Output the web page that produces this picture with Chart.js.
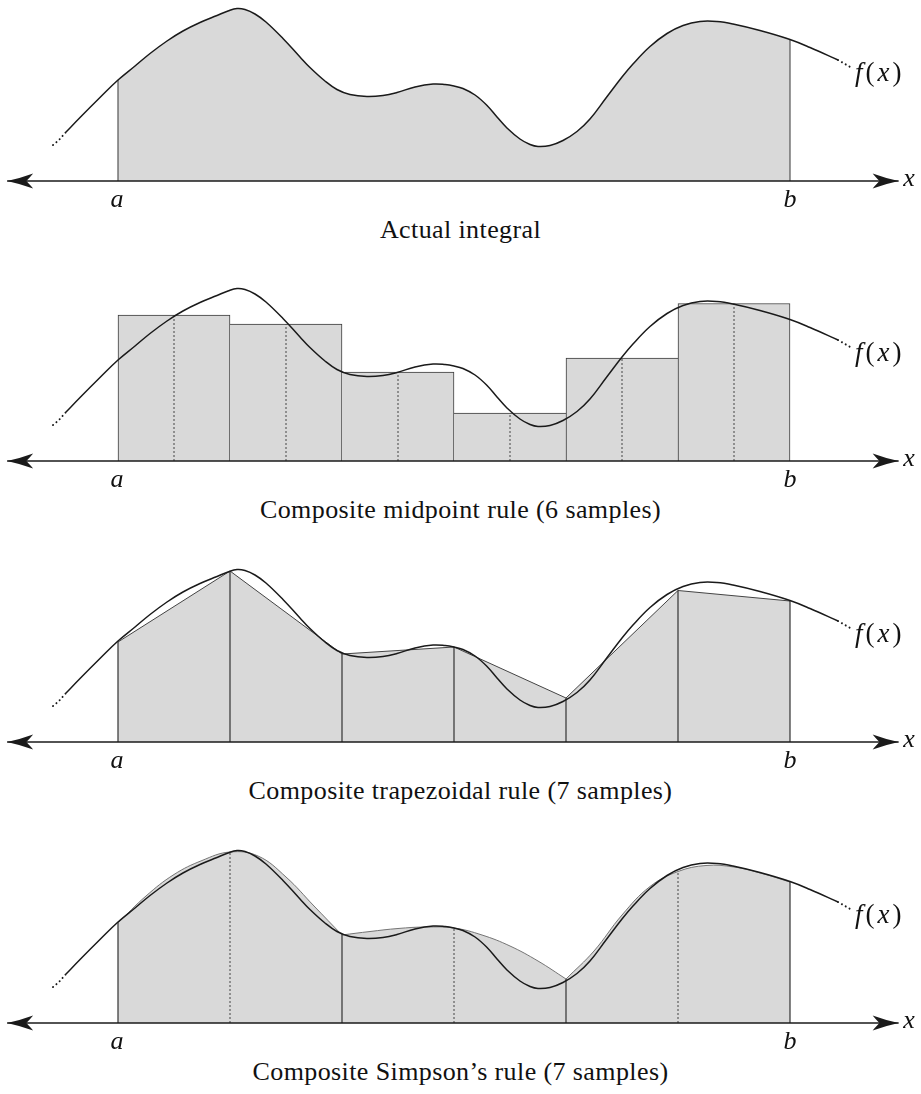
<!DOCTYPE html>
<html><head><meta charset="utf-8">
<script src="https://cdn.jsdelivr.net/npm/chart.js@4.4.1/dist/chart.umd.min.js"></script>
<style>
html,body{margin:0;padding:0;background:#fff;overflow:hidden;}
#wrap{position:relative;width:921px;height:1094px;overflow:hidden;}
#wrap canvas{position:absolute;left:0;}
.lbl{position:absolute;font-family:"Liberation Serif","Times New Roman",serif;color:#111;line-height:1;white-space:nowrap;}
.cap{letter-spacing:0.4px;}
.fx{letter-spacing:3px;}
</style></head><body><div id="wrap"></div>
<script>
// ---------------- data (x in units of the sample spacing, a = 0, b = 6) ----------------
const CURVE_X = [-0.464,-0.339,-0.161,0,0.152,0.286,0.4375,0.58,0.732,0.884,0.982,1.063,1.134,1.223,1.321,1.473,1.625,1.714,1.848,1.955,2.071,2.223,2.366,2.491,2.652,2.813,2.92,3,3.08,3.188,3.295,3.384,3.473,3.589,3.679,3.75,3.857,3.973,4.098,4.214,4.357,4.5,4.598,4.75,4.902,5.045,5.196,5.348,5.491,5.732,6,6.179,6.429];
const CURVE_Y = [49,63.5,83.5,101,115,127.5,140,150,158.5,165.5,170,172.5,171.5,167,159,142.5,124,113.5,100,91.5,86.5,84.5,85.5,88.5,94,97,96.5,95,92.5,86,75.5,64,53,42,36.5,34.5,35.5,40.5,49.5,62,83,104,117,134.5,147.5,155.5,159.5,159.5,157,150.5,141.5,133.5,121];
const DOT_LEFT_X = [-0.58,-0.527,-0.464];
const DOT_LEFT_Y = [36,41,49];
const DOT_RIGHT_X = [6.429,6.491,6.554];
const DOT_RIGHT_Y = [121,117,113];
const NODE_X = [0,1,2,3,4,5,6];
const NODE_F = [100,171,88,95,44,151.5,141];
const MID_X = [0.5,1.5,2.5,3.5,4.5,5.5];
const MID_F = [146,137,89,48,103,157.5];
const SIMPSON_X = [0,0.25,0.5,0.75,1,1.25,1.5,1.75,2,2.25,2.5,2.75,3,3.25,3.5,3.75,4,4.25,4.5,4.75,5,5.25,5.5,5.75,6];
const SIMPSON_Y = [100,127,148.5,162.5,171,167,146,117,88,91.5,94.5,96,95,88,77,62,44,72,108,136.5,151.5,157.5,156,149.5,141];
const SIMPSON_SOLID_X = [0,2,4,6];
const SIMPSON_DOTTED_X = [1,3,5];
const AXIS_X = [-0.99,6.97];
const A_VAL = 0, B_VAL = 6;
const TICK_LABELS = ['a','b'];
const AXIS_LABEL = 'x';
const CAPTIONS = ['Actual integral','Composite midpoint rule (6 samples)','Composite trapezoidal rule (7 samples)','Composite Simpson\u2019s rule (7 samples)'];

// ---------------- layout constants ----------------
const W = 921, CH = 200, AXIS_IN_CANVAS = 181;
const AXIS_PX = [181,461,742,1023];
const PX_A = 118, PX_UNIT = 112;
const XMIN = -PX_A/PX_UNIT, XMAX = (W-PX_A)/PX_UNIT;
const INK = '#1a1a1a', FILL = '#d9d9d9';

const pts = (xs,ys) => xs.map((x,i)=>({x, y:ys[i]}));
function vlines(xs, tops){ const d=[]; xs.forEach((x,i)=>{ d.push({x,y:0},{x,y:tops[i]},{x,y:null}); }); return d; }
const curveAt = x => CURVE_Y[CURVE_X.indexOf(x)];
const nodeAt = x => NODE_F[NODE_X.indexOf(x)];

function drawArrow(ctx,tx,ty,d){
  const L=26, Wd=7.5, N=19;
  ctx.save(); ctx.fillStyle=INK; ctx.beginPath();
  ctx.moveTo(tx,ty);
  ctx.quadraticCurveTo(tx-d*L*0.55, ty-Wd*0.42, tx-d*L, ty-Wd);
  ctx.quadraticCurveTo(tx-d*(N+2), ty-Wd*0.2, tx-d*N, ty);
  ctx.quadraticCurveTo(tx-d*(N+2), ty+Wd*0.2, tx-d*L, ty+Wd);
  ctx.quadraticCurveTo(tx-d*L*0.55, ty+Wd*0.42, tx, ty);
  ctx.closePath(); ctx.fill(); ctx.restore();
}
const arrowPlugin = { id:'arrows', afterDatasetsDraw(chart){
  const xs=chart.scales.x, ys=chart.scales.y, y=ys.getPixelForValue(0);
  drawArrow(chart.ctx, xs.getPixelForValue(AXIS_X[0]), y, -1);
  drawArrow(chart.ctx, xs.getPixelForValue(AXIS_X[1]), y, 1);
}};

function line(data, o){ return Object.assign({type:'line', data, pointRadius:0, pointHoverRadius:0, borderColor:INK, borderWidth:1.5, fill:false, tension:0, spanGaps:false}, o||{}); }
const SMOOTH = {cubicInterpolationMode:'default', tension:0.4};
function commonSets(){
  return [
    line(pts(CURVE_X,CURVE_Y), Object.assign({order:0}, SMOOTH)),
    line(pts(DOT_LEFT_X,DOT_LEFT_Y), {borderDash:[0.01,4.4], borderCapStyle:'round', borderWidth:2, order:0}),
    line(pts(DOT_RIGHT_X,DOT_RIGHT_Y), {borderDash:[0.01,4.4], borderCapStyle:'round', borderWidth:2, order:0}),
    line([{x:AXIS_X[0],y:0},{x:AXIS_X[1],y:0}], {borderWidth:1.5, order:1})
  ];
}

const panels = [];
// 1: actual integral
panels.push([
  ...commonSets(),
  line(vlines([A_VAL,B_VAL],[curveAt(A_VAL),curveAt(B_VAL)]), {borderColor:'#555', borderWidth:1.2, order:5}),
  line(pts(CURVE_X,CURVE_Y).filter(p=>p.x>=A_VAL&&p.x<=B_VAL), Object.assign({borderWidth:0, backgroundColor:FILL, fill:'origin', order:10}, SMOOTH))
]);
// 2: midpoint
panels.push([
  ...commonSets(),
  line(vlines(MID_X,MID_F), {borderColor:'#444', borderWidth:1, borderDash:[2,2], order:5}),
  {type:'bar', data:pts(MID_X,MID_F), backgroundColor:FILL, borderColor:'#3a3a3a', borderSkipped:false,
   categoryPercentage:1, barPercentage:1, order:10,
   borderWidth: c => { const i=c.dataIndex, h=MID_F, n=h.length; if(i===undefined) return 1;
     return {top:1, bottom:0, left:(i===0||h[i]>=h[i-1])?1:0, right:(i===n-1||h[i]>h[i+1])?1:0}; }}
]);
// 3: trapezoid
panels.push([
  ...commonSets(),
  line(vlines(NODE_X,NODE_F), {borderColor:'#333', borderWidth:1.2, order:5}),
  line(pts(NODE_X,NODE_F), {borderColor:'#444', borderWidth:1, backgroundColor:FILL, fill:'origin', order:10})
]);
// 4: simpson
const simpSeg = k => pts(SIMPSON_X.slice(8*k,8*k+9), SIMPSON_Y.slice(8*k,8*k+9));
panels.push([
  ...commonSets(),
  line(vlines(SIMPSON_SOLID_X, SIMPSON_SOLID_X.map(nodeAt)), {borderColor:'#333', borderWidth:1.2, order:5}),
  line(vlines(SIMPSON_DOTTED_X, SIMPSON_DOTTED_X.map(nodeAt)), {borderColor:'#444', borderWidth:1, borderDash:[2,2], order:5}),
  ...[0,1,2].map(k => line(simpSeg(k), Object.assign({borderColor:'#666', borderWidth:0.9, backgroundColor:FILL, fill:'origin', order:10}, SMOOTH)))
]);

const wrap = document.getElementById('wrap');
function addLabel(html, x, baseline, fs, cls, align){
  const d=document.createElement('div'); d.className='lbl '+(cls||''); d.innerHTML=html;
  d.style.fontSize=fs+'px'; d.style.left=x+'px'; d.style.top=(baseline-0.8375*fs)+'px';
  if(align==='center') d.style.transform='translateX(-50%)';
  wrap.appendChild(d);
}

panels.forEach((sets,i)=>{
  const cv=document.createElement('canvas'); cv.width=W; cv.height=CH;
  cv.style.width=W+'px'; cv.style.height=CH+'px'; cv.style.top=(AXIS_PX[i]-AXIS_IN_CANVAS)+'px';
  wrap.appendChild(cv);
  new Chart(cv.getContext('2d'), {
    type:'line',
    data:{datasets:sets},
    options:{
      responsive:false, animation:false, devicePixelRatio:1,
      layout:{padding:0},
      plugins:{legend:{display:false}, tooltip:{enabled:false}, title:{display:false}},
      events:[],
      scales:{
        x:{type:'linear', min:XMIN, max:XMAX, offset:false, display:false, grid:{offset:false}, ticks:{stepSize:1, includeBounds:false}},
        y:{type:'linear', min:-(CH-AXIS_IN_CANVAS), max:AXIS_IN_CANVAS, display:false}
      }
    },
    plugins:[arrowPlugin]
  });
  const ax=AXIS_PX[i];
  addLabel('<i>'+TICK_LABELS[0]+'</i>', PX_A+A_VAL*PX_UNIT-1, ax+27, 26, '', 'center');
  addLabel('<i>'+TICK_LABELS[1]+'</i>', PX_A+B_VAL*PX_UNIT, ax+27, 26, '', 'center');
  addLabel('<i>'+AXIS_LABEL+'</i>', 909, ax+5.5, 26, '', 'center');
  addLabel('<i>f</i>(<i>x</i>)', 855, ax-99, 27, 'fx', '');
  addLabel(CAPTIONS[i], 460.5, ax+58, 26, 'cap', 'center');
});
</script></body></html>
